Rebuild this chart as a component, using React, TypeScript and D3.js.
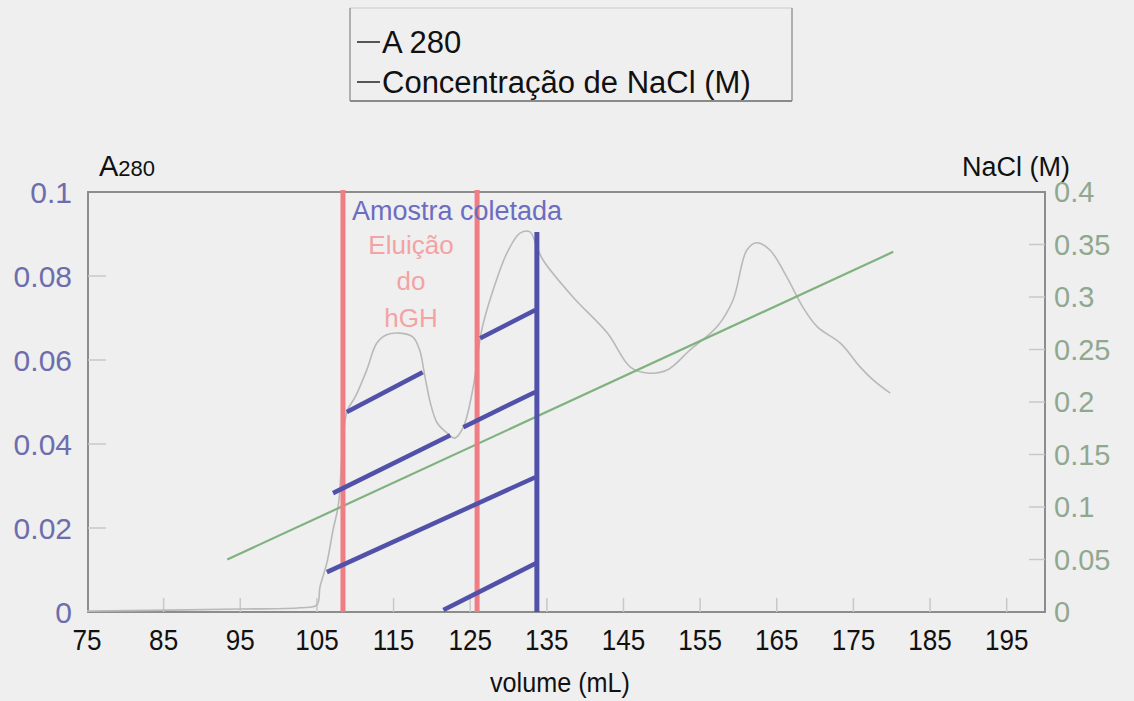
import * as d3 from "d3";

// A280 trace (volume mL, absorbance)
const a280Volume = [75, 95, 102.8, 105, 105.4, 106.3, 107.1, 107.8, 108.9, 110, 111.5, 112.8, 114.1, 115.8, 117.5, 118.4, 119.1, 119.8, 120.7, 122, 123, 124.1, 125.4, 126.5, 128, 129.8, 131.5, 132.8, 133.7, 134.5, 138.4, 142.9, 145.9, 148.1, 150.7, 153.7, 157.2, 159.3, 161.1, 162.4, 164.1, 166.3, 168.4, 170.3, 173.3, 175.9, 177.6, 179.8];
const a280Value = [0.0002, 0.0007, 0.001, 0.0017, 0.006, 0.0117, 0.0195, 0.0255, 0.0476, 0.0512, 0.0576, 0.064, 0.066, 0.0664, 0.0655, 0.0624, 0.056, 0.0498, 0.045, 0.0426, 0.0414, 0.044, 0.0536, 0.0671, 0.0767, 0.0855, 0.0902, 0.0905, 0.0869, 0.0838, 0.075, 0.0664, 0.0583, 0.0569, 0.0576, 0.0624, 0.0679, 0.0743, 0.0862, 0.0879, 0.0862, 0.0798, 0.0726, 0.0679, 0.064, 0.0583, 0.0552, 0.0521];

// NaCl gradient (volume mL, M)
const naclVolume = [93.3, 180.2];
const naclValue = [0.05, 0.343];

// markers
const elutionBounds = [108.4, 125.9];
const sampleVolume = 133.7;
const sampleTop = 0.0905;

// hatch strokes of the collected sample (volume, A280 scale)
const hatchX1 = [108.9, 107.1, 124.1, 126.3, 106.3, 121.5];
const hatchY1 = [0.0476, 0.0283, 0.044, 0.0652, 0.0095, 0.0005];
const hatchX2 = [118.8, 122.4, 133.5, 133.5, 133.5, 133.7];
const hatchY2 = [0.0571, 0.0421, 0.0524, 0.0719, 0.0321, 0.0117];

const xTicks = [75, 85, 95, 105, 115, 125, 135, 145, 155, 165, 175, 185, 195];
const leftTicks = [0, 0.02, 0.04, 0.06, 0.08, 0.1];
const rightTicks = [0, 0.05, 0.1, 0.15, 0.2, 0.25, 0.3, 0.35, 0.4];

const font = "'Liberation Sans', Arial, sans-serif";

export default function App() {
  const width = 1134;
  const height = 701;
  const plot = { left: 88, right: 1045, top: 192, bottom: 612 };

  const x = d3.scaleLinear().domain([75, 200]).range([plot.left - 1, plot.right]);
  const yA = d3.scaleLinear().domain([0, 0.1]).range([plot.bottom, plot.top]);
  const yN = d3.scaleLinear().domain([0, 0.4]).range([plot.bottom, plot.top]);

  const a280Line = d3
    .line<number>()
    .x((_, i) => x(a280Volume[i]))
    .y((d) => yA(d))
    .curve(d3.curveCatmullRom.alpha(0.5));

  const naclLine = d3
    .line<number>()
    .x((_, i) => x(naclVolume[i]))
    .y((d) => yN(d));

  return (
    <div style={{ position: "absolute", left: 0, top: 0 }}>
      <svg width={width} height={height} style={{ display: "block", background: "#efefef" }} fontFamily={font}>
        {/* legend */}
        <g>
          <line x1={350} y1={8} x2={792} y2={8} stroke="#dcdcdc" strokeWidth={2} />
          <line x1={350} y1={8} x2={350} y2={101} stroke="#9a9a9a" strokeWidth={1.5} />
          <line x1={792} y1={8} x2={792} y2={101} stroke="#9a9a9a" strokeWidth={1.5} />
          <line x1={350} y1={101} x2={792} y2={101} stroke="#8a8a8a" strokeWidth={2} />
          <line x1={357} y1={42} x2={380} y2={42} stroke="#222" strokeWidth={1.5} />
          <text x={382} y={53} fontSize={31} fill="#111">A 280</text>
          <line x1={357} y1={82} x2={380} y2={82} stroke="#222" strokeWidth={1.5} />
          <text x={382} y={93} fontSize={31} fill="#111">Concentração de NaCl (M)</text>
        </g>

        {/* axis titles */}
        <text x={99} y={176} fontSize={29} fill="#111">
          A<tspan fontSize={22}>280</tspan>
        </text>
        <text x={1070} y={176} fontSize={27} fill="#111" textAnchor="end">NaCl (M)</text>

        {/* frame */}
        <rect
          x={plot.left}
          y={plot.top}
          width={plot.right - plot.left}
          height={plot.bottom - plot.top}
          fill="none"
          stroke="#8c8c8c"
          strokeWidth={2}
        />

        {/* inner ticks */}
        {leftTicks.slice(1, -1).map((t) => (
          <line key={"lt" + t} x1={plot.left} x2={plot.left + 18} y1={yA(t)} y2={yA(t)} stroke="#c8c8c8" strokeWidth={1.5} />
        ))}
        {rightTicks.slice(1, -1).map((t) => (
          <line key={"rt" + t} x1={plot.right - 16} x2={plot.right} y1={yN(t)} y2={yN(t)} stroke="#c8c8c8" strokeWidth={1.5} />
        ))}
        {xTicks.slice(1).map((t) => (
          <line key={"xt" + t} x1={x(t)} x2={x(t)} y1={plot.bottom} y2={plot.bottom - 14} stroke="#c8c8c8" strokeWidth={1.5} />
        ))}

        {/* tick labels */}
        {leftTicks.map((t) => (
          <text key={"ll" + t} x={72} y={yA(t) + 11} fontSize={30} fill="#6d6dae" textAnchor="end">
            {d3.format("~g")(t)}
          </text>
        ))}
        {rightTicks.map((t) => (
          <text key={"rl" + t} x={1054} y={yN(t) + 10} fontSize={29} fill="#8fa88f">
            {d3.format("~g")(t)}
          </text>
        ))}
        {xTicks.map((t) => (
          <text
            key={"xl" + t}
            transform={`translate(${x(t)},650) scale(0.9,1)`}
            fontSize={29}
            fill="#111"
            textAnchor="middle"
          >
            {t}
          </text>
        ))}
        <text transform="translate(560,692) scale(0.9,1)" fontSize={28} fill="#111" textAnchor="middle">
          volume (mL)
        </text>

        {/* A280 trace */}
        <path d={a280Line(a280Value) ?? ""} fill="none" stroke="#b9b9b9" strokeWidth={1.6} />

        {/* NaCl gradient */}
        <path d={naclLine(naclValue) ?? ""} fill="none" stroke="#7fb27f" strokeWidth={2.2} />

        {/* elution window */}
        {elutionBounds.map((v) => (
          <line key={"r" + v} x1={x(v)} x2={x(v)} y1={plot.top - 2} y2={plot.bottom} stroke="#f07c84" strokeWidth={5} />
        ))}

        {/* collected sample */}
        {hatchX1.map((v, i) => (
          <line
            key={"h" + i}
            x1={x(v)}
            y1={yA(hatchY1[i])}
            x2={x(hatchX2[i])}
            y2={yA(hatchY2[i])}
            stroke="#5151aa"
            strokeWidth={4.5}
          />
        ))}
        <line x1={x(sampleVolume)} x2={x(sampleVolume)} y1={yA(sampleTop)} y2={plot.bottom} stroke="#5151aa" strokeWidth={5} />

        <text x={457} y={220} fontSize={27} fill="#6c6cc0" textAnchor="middle">Amostra coletada</text>
        <g fontSize={26} fill="#f3a3a3" textAnchor="middle">
          <text x={411} y={254}>Eluição</text>
          <text x={411} y={290}>do</text>
          <text x={411} y={327}>hGH</text>
        </g>
      </svg>
    </div>
  );
}
